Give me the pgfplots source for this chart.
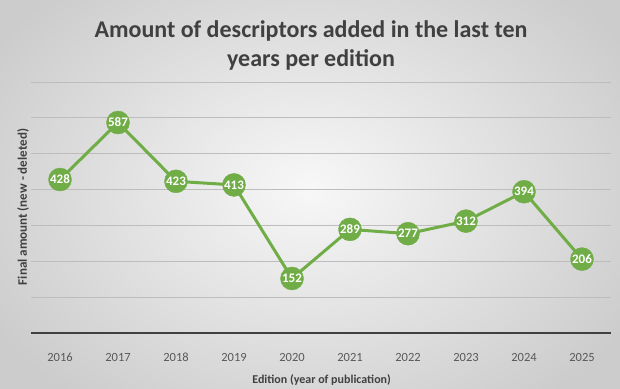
\documentclass[border=0pt]{standalone}
\usepackage{pgfplots}
\pgfplotsset{compat=1.18}
\usepackage{fontspec}
\setmainfont{Carlito}
\definecolor{grn}{HTML}{70AD47}
\definecolor{ttl}{HTML}{404040}
\definecolor{tck}{HTML}{595959}
\definecolor{grd}{HTML}{BDBDBD}
\begin{document}
\begin{tikzpicture}[x=1pt,y=1pt]
\useasboundingbox (0,0) rectangle (620,388);
\shade[inner color=white!97!black, outer color=white!80!black] (-60,-70) rectangle (680,470);
\node[anchor=base, text=ttl, font=\bfseries\fontsize{24}{28}\selectfont] at (311,350.5) {Amount of descriptors added in the last ten};
\node[anchor=base, text=ttl, font=\bfseries\fontsize{24}{28}\selectfont] at (311,321) {years per edition};
\begin{axis}[
  at={(31pt,55pt)}, anchor=south west,
  scale only axis, width=580pt, height=251pt,
  xmin=-0.5, xmax=9.5, ymin=0, ymax=700,
  clip=false,
  /pgf/number format/assume math mode=true,
  axis x line*=bottom, axis y line*=left,
  y axis line style={draw=none},
  x axis line style={draw=ttl, line width=1.5pt, -},
  xtick={0,...,9},
  xticklabels={2016,2017,2018,2019,2020,2021,2022,2023,2024,2025},
  ytick={100,200,...,700},
  yticklabels={},
  major tick length=0pt,
  ymajorgrids,
  major grid style={draw=grd, line width=1pt},
  xticklabel style={anchor=center, yshift=-24pt, text=tck, font=\fontsize{12.5}{14}\selectfont},
  xlabel={Edition (year of publication)},
  ylabel={Final amount (new - deleted)},
  every axis x label/.style={at={(rel axis cs:0.501,-0.187)}, anchor=center, text=ttl, font=\bfseries\fontsize{12}{14}\selectfont},
  every axis y label/.style={at={(rel axis cs:-0.0138,0.502)}, rotate=90, anchor=center, text=ttl, font=\bfseries\fontsize{13}{15}\selectfont},
]
\addplot[
  draw=grn, line width=3pt,
  mark=*, mark size=11.5pt, mark options={fill=grn, draw=grn, line width=0.4pt},
  nodes near coords={\pgfmathprintnumber[assume math mode=true]{\pgfplotspointmeta}},
  nodes near coords align={center},
  every node near coord/.append style={text=white, font=\bfseries\fontsize{13}{14}\selectfont},
] coordinates {
  (0,428) (1,587) (2,423) (3,413) (4,152) (5,289) (6,277) (7,312) (8,394) (9,206)
};
\end{axis}
\end{tikzpicture}
\end{document}
